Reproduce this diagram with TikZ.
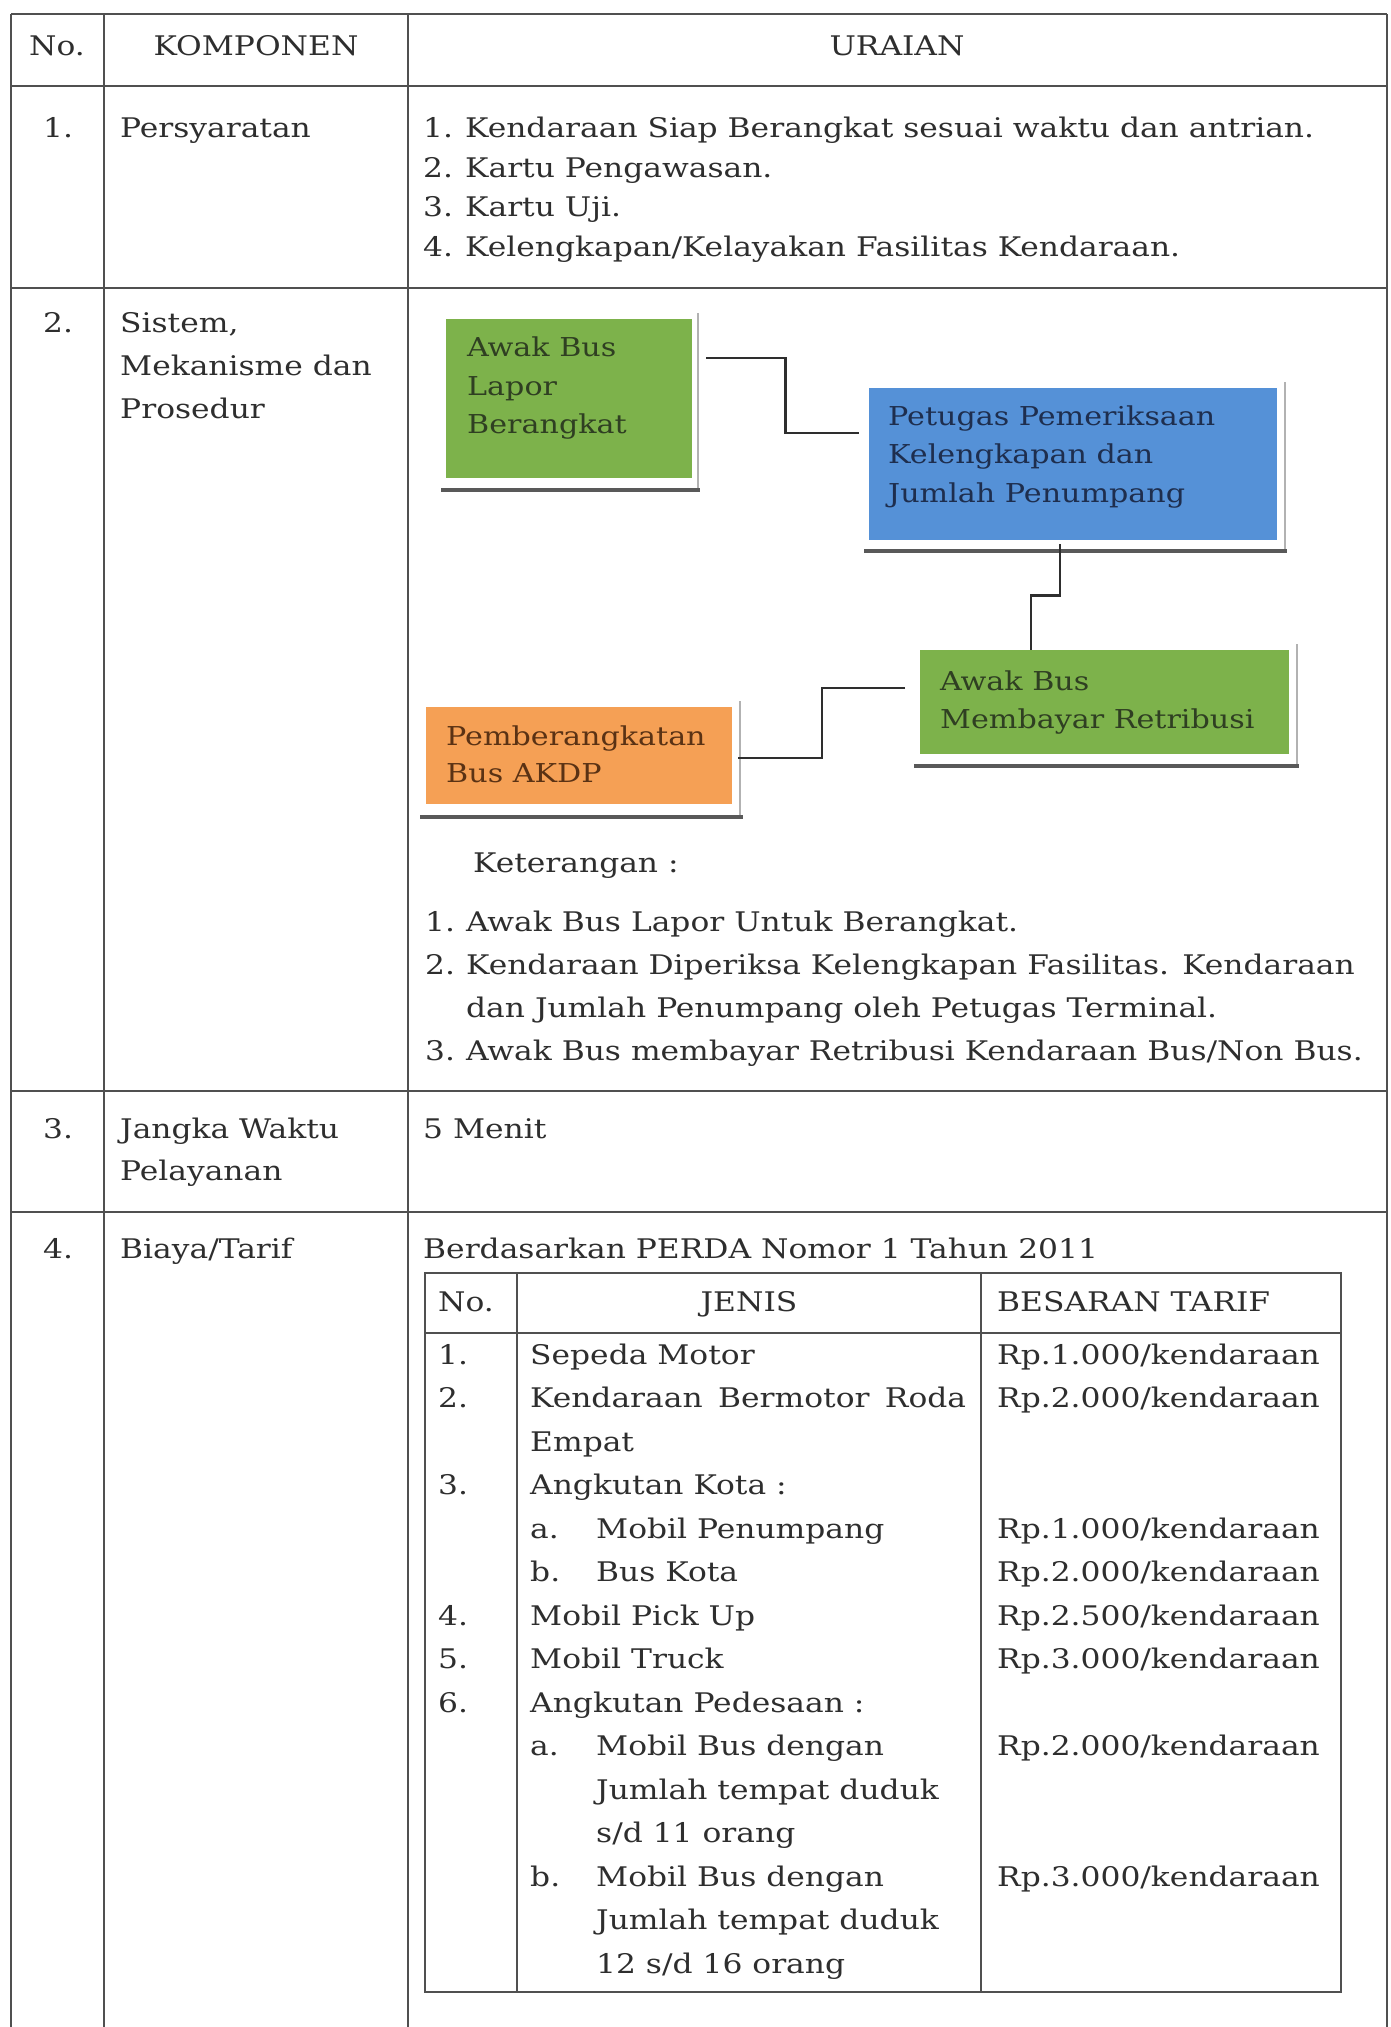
\documentclass[tikz,border=0pt]{standalone}
\usepackage{fontspec}
\setmainfont{DejaVu Serif}[FakeStretch=1.16]
\definecolor{ink}{HTML}{2E2E2E}
\definecolor{rulec}{HTML}{505050}
\definecolor{boxgreen}{HTML}{7DB24B}
\definecolor{boxblue}{HTML}{5591D7}
\definecolor{boxorange}{HTML}{F5A055}
\definecolor{greenink}{HTML}{2F3F22}
\definecolor{blueink}{HTML}{1E2E4E}
\definecolor{orangeink}{HTML}{5A3214}
\newcommand{\bodyfont}{\fontsize{27}{40}\selectfont}
\newcommand{\boxfont}{\fontsize{26}{38}\selectfont}
\tikzset{
  tline/.style={draw=rulec, line width=2pt},
  txt/.style={anchor=base west, inner sep=0pt, text=ink, font=\bodyfont},
  ctxt/.style={anchor=base, inner sep=0pt, text=ink, font=\bodyfont},
  flowbox/.style={rectangle, anchor=north west, inner sep=0pt, draw=none},
  btxt/.style={anchor=base west, inner sep=0pt, font=\boxfont},
  conn/.style={draw=ink, line width=2.5pt},
  shadowb/.style={draw=black!65, line width=4pt},
  shadowr/.style={draw=black!30, line width=1.5pt}
}
\begin{document}
\begin{tikzpicture}[x=1pt,y=-1pt]
\useasboundingbox (0,0) rectangle (1391,2027);
\fill[white] (0,0) rectangle (1391,2027);

% main table grid
\foreach \x in {11,104,408,1387} \draw[tline] (\x,14) -- (\x,2027);
\foreach \y in {14,86,288,1091,1212} \draw[tline] (11,\y) -- (1387,\y);

% header
\node[ctxt] (hno) at (57,55) {No.};
\node[ctxt] (hkomp) at (256,55) {KOMPONEN};
\node[ctxt] (hurai) at (897,55) {URAIAN};

% row 1
\node[txt] (n1) at (43,137) {1.};
\node[txt] (k1) at (120,137) {Persyaratan};
\node[txt] (p1a) at (423,137) {1.};
\node[txt] (p1b) at (465,137) {Kendaraan Siap Berangkat sesuai waktu dan antrian.};
\node[txt] (p2a) at (423,177) {2.};
\node[txt] (p2b) at (465,177) {Kartu Pengawasan.};
\node[txt] (p3a) at (423,216) {3.};
\node[txt] (p3b) at (465,216) {Kartu Uji.};
\node[txt] (p4a) at (423,256) {4.};
\node[txt] (p4b) at (465,256) {Kelengkapan/Kelayakan Fasilitas Kendaraan.};

% row 2
\node[txt] (n2) at (43,332) {2.};
\node[txt] (k2a) at (120,332) {Sistem,};
\node[txt] (k2b) at (120,375) {Mekanisme dan};
\node[txt] (k2c) at (120,418) {Prosedur};

% flow chart: shadows
\draw[shadowr] (698,313) -- (698,490);
\draw[shadowb] (441,490) -- (700,490);
\draw[shadowr] (1285,382) -- (1285,551);
\draw[shadowb] (864,551) -- (1287,551);
\draw[shadowr] (1297,644) -- (1297,766);
\draw[shadowb] (914,766) -- (1299,766);
\draw[shadowr] (740,701) -- (740,817);
\draw[shadowb] (420,817) -- (743,817);

% flow chart: boxes
\node[flowbox, fill=boxgreen, minimum width=246pt, minimum height=159pt] (b1) at (446,319) {};
\node[flowbox, fill=boxblue, minimum width=408pt, minimum height=152pt] (b2) at (869,388) {};
\node[flowbox, fill=boxgreen, minimum width=369pt, minimum height=104pt] (b3) at (920,650) {};
\node[flowbox, fill=boxorange, minimum width=306pt, minimum height=97pt] (b4) at (426,707) {};

% flow chart: box labels
\node[btxt, text=greenink] (t1a) at (467,356) {Awak Bus};
\node[btxt, text=greenink] (t1b) at (467,395) {Lapor};
\node[btxt, text=greenink] (t1c) at (467,433) {Berangkat};
\node[btxt, text=blueink] (t2a) at (888,425) {Petugas Pemeriksaan};
\node[btxt, text=blueink] (t2b) at (888,463) {Kelengkapan dan};
\node[btxt, text=blueink] (t2c) at (888,502) {Jumlah Penumpang};
\node[btxt, text=greenink] (t3a) at (940,690) {Awak Bus};
\node[btxt, text=greenink] (t3b) at (940,728) {Membayar Retribusi};
\node[btxt, text=orangeink] (t4a) at (446,745) {Pemberangkatan};
\node[btxt, text=orangeink] (t4b) at (446,782) {Bus AKDP};

% flow chart: connectors
\draw[conn] ([xshift=14pt,yshift=-39pt]b1.north east) -- ++(79,0) |- ([xshift=-10pt,yshift=-45pt]b2.north west);
\draw[conn] ([xshift=191pt,yshift=-4pt]b2.south west) -- ++(0,51) -| ([xshift=111pt]b3.north west);
\draw[conn] ([xshift=-15pt,yshift=-38pt]b3.north west) -- ++(-83,0) |- ([xshift=6pt,yshift=-51pt]b4.north east);

% notes
\node[txt] (ket) at (473,872) {Keterangan :};
\node[txt] (e1a) at (425,931) {1.};
\node[txt] (e1b) at (466,931) {Awak Bus Lapor Untuk Berangkat.};
\node[txt] (e2a) at (425,974) {2.};
\node[txt] (e2b) at (466,974) {Kendaraan Diperiksa Kelengkapan Fasilitas. Kendaraan};
\node[txt] (e2c) at (466,1017) {dan Jumlah Penumpang oleh Petugas Terminal.};
\node[txt] (e3a) at (425,1060) {3.};
\node[txt] (e3b) at (466,1060) {Awak Bus membayar Retribusi Kendaraan Bus/Non Bus.};

% row 3
\node[txt] (n3) at (43,1138) {3.};
\node[txt] (k3a) at (120,1138) {Jangka Waktu};
\node[txt] (k3b) at (120,1180) {Pelayanan};
\node[txt] (u3) at (423,1138) {5 Menit};

% row 4
\node[txt] (n4) at (43,1258) {4.};
\node[txt] (k4) at (120,1258) {Biaya/Tarif};
\node[txt] (u4) at (423,1258) {Berdasarkan PERDA Nomor 1 Tahun 2011};

% fee table grid
\draw[tline, line width=1.8pt] (425,1273) rectangle (1341,1992);
\draw[tline, line width=1.8pt] (425,1333) -- (1341,1333);
\draw[tline, line width=1.8pt] (517,1273) -- (517,1992);
\draw[tline, line width=1.8pt] (981,1273) -- (981,1992);

% fee table header
\node[txt] (fhno) at (438,1311) {No.};
\node[ctxt] (fhjen) at (749,1311) {JENIS};
\node[txt] (fhtar) at (997,1311) {BESARAN TARIF};

% fee table rows
\node[txt] (f1n) at (438,1364) {1.};
\node[txt] (f1j) at (530,1364) {Sepeda Motor};
\node[txt] (f1t) at (997,1364) {Rp.1.000/kendaraan};
\node[txt] (f2n) at (438,1407.5) {2.};
\node[txt] (f2j) at (530,1407.5) {\hbox to 436pt{Kendaraan\hfill Bermotor\hfill Roda}};
\node[txt] (f2t) at (997,1407.5) {Rp.2.000/kendaraan};
\node[txt] (f2k) at (530,1451) {Empat};
\node[txt] (f3n) at (438,1494.5) {3.};
\node[txt] (f3j) at (530,1494.5) {Angkutan Kota :};
\node[txt] (f3al) at (530,1538) {a.};
\node[txt] (f3aj) at (596,1538) {Mobil Penumpang};
\node[txt] (f3at) at (997,1538) {Rp.1.000/kendaraan};
\node[txt] (f3bl) at (530,1581.5) {b.};
\node[txt] (f3bj) at (596,1581.5) {Bus Kota};
\node[txt] (f3bt) at (997,1581.5) {Rp.2.000/kendaraan};
\node[txt] (f4n) at (438,1625) {4.};
\node[txt] (f4j) at (530,1625) {Mobil Pick Up};
\node[txt] (f4t) at (997,1625) {Rp.2.500/kendaraan};
\node[txt] (f5n) at (438,1668.5) {5.};
\node[txt] (f5j) at (530,1668.5) {Mobil Truck};
\node[txt] (f5t) at (997,1668.5) {Rp.3.000/kendaraan};
\node[txt] (f6n) at (438,1712) {6.};
\node[txt] (f6j) at (530,1712) {Angkutan Pedesaan :};
\node[txt] (f6al) at (530,1755.5) {a.};
\node[txt] (f6aj) at (596,1755.5) {Mobil Bus dengan};
\node[txt] (f6at) at (997,1755.5) {Rp.2.000/kendaraan};
\node[txt] (f6ak) at (596,1799) {Jumlah tempat duduk};
\node[txt] (f6am) at (596,1842.5) {s/d 11 orang};
\node[txt] (f6bl) at (530,1886) {b.};
\node[txt] (f6bj) at (596,1886) {Mobil Bus dengan};
\node[txt] (f6bt) at (997,1886) {Rp.3.000/kendaraan};
\node[txt] (f6bk) at (596,1929.5) {Jumlah tempat duduk};
\node[txt] (f6bm) at (596,1973) {12 s/d 16 orang};
\end{tikzpicture}
\end{document}
